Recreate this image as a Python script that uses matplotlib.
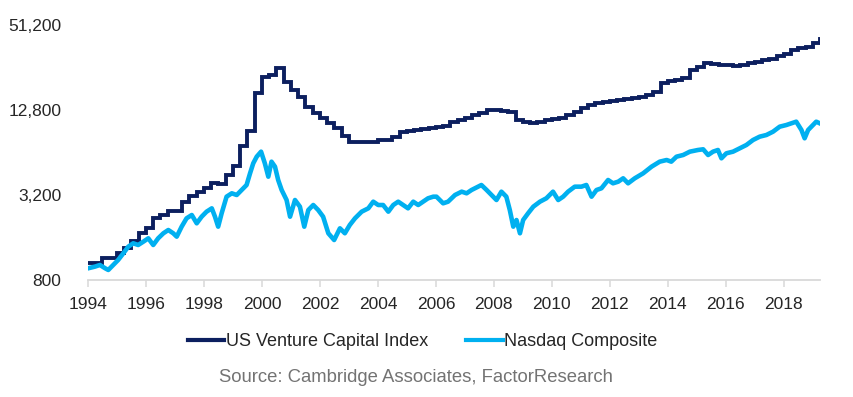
import numpy as np
import matplotlib
matplotlib.use("Agg")
import matplotlib.pyplot as plt
from matplotlib.ticker import FixedLocator, NullLocator, FuncFormatter

plt.rcParams['font.family'] = ['Liberation Sans', 'DejaVu Sans']

# ---- data ----
vc_quarters = np.arange(1994.0, 2019.26, 0.25)
vc_values = [
    1056, 1056, 1145, 1145,
    1243, 1348, 1511, 1722,
    1868, 2199, 2309, 2465,
    2465, 2855, 3148, 3360,
    3587, 3892, 3829, 4434,
    5135, 7115, 9088, 16890,
    21920, 22650, 25390, 20210,
    17730, 15820, 13440, 12190,
    11230, 10350, 9544, 8375,
    7594, 7594, 7594, 7594,
    7848, 7848, 8240, 8942,
    9088, 9240, 9392, 9544,
    9703, 9860, 10528, 10872,
    11230, 11800, 12190, 12800,
    12800, 12590, 12390, 10872,
    10528, 10350, 10528, 10872,
    11050, 11230, 11800, 12390,
    13220, 13890, 14350, 14580,
    14820, 15070, 15310, 15570,
    15820, 16350, 17170, 19880,
    20540, 20880, 21570, 24570,
    25810, 27550, 27100, 26660,
    26660, 26230, 26660, 27550,
    28000, 28930, 29410, 30900,
    31900, 34050, 35170, 35760,
    38170, 40740,
]

nasdaq_dates = [
    1994.01, 1994.24, 1994.41, 1994.59, 1994.70, 1994.87,
    1995.04, 1995.22, 1995.39, 1995.56, 1995.73, 1995.91,
    1996.08, 1996.25, 1996.42, 1996.60, 1996.77, 1996.94,
    1997.06, 1997.23, 1997.40, 1997.58, 1997.75, 1997.92,
    1998.09, 1998.27, 1998.38, 1998.49, 1998.61, 1998.78, 1998.96,
    1999.13, 1999.30, 1999.47, 1999.59, 1999.70, 1999.82, 1999.97,
    2000.10, 2000.22, 2000.33, 2000.45, 2000.56, 2000.68, 2000.85, 2000.97,
    2001.14, 2001.31, 2001.46, 2001.60, 2001.77, 2001.94,
    2002.11, 2002.29, 2002.49, 2002.69, 2002.86,
    2003.03, 2003.21, 2003.44, 2003.67, 2003.84,
    2004.01, 2004.18, 2004.36, 2004.53, 2004.70, 2004.87,
    2005.04, 2005.22, 2005.39, 2005.56, 2005.73, 2005.91,
    2006.02, 2006.25, 2006.42, 2006.66, 2006.89,
    2007.06, 2007.23, 2007.46, 2007.57, 2007.75, 2007.92,
    2008.09, 2008.26, 2008.43, 2008.55, 2008.67, 2008.78, 2008.90,
    2009.01, 2009.18, 2009.36, 2009.59, 2009.81,
    2010.04, 2010.22, 2010.39, 2010.56, 2010.79,
    2011.02, 2011.19, 2011.37, 2011.54, 2011.71, 2011.94,
    2012.11, 2012.29, 2012.46, 2012.63, 2012.86,
    2013.15, 2013.44, 2013.72, 2013.96,
    2014.12, 2014.30, 2014.53, 2014.76,
    2015.04, 2015.22, 2015.39, 2015.56, 2015.73, 2015.85,
    2016.02, 2016.25, 2016.48, 2016.71, 2016.94,
    2017.17, 2017.40, 2017.63, 2017.86,
    2018.09, 2018.26, 2018.43, 2018.61, 2018.72, 2018.84,
    2019.01, 2019.12, 2019.24,
]
nasdaq_values = [
    969, 995, 1022, 969, 942, 1022,
    1109, 1237, 1378, 1456, 1416, 1495,
    1579, 1416, 1579, 1714, 1808, 1714,
    1622, 1909, 2188, 2309, 2017, 2247,
    2438, 2575, 2247, 1909, 2374, 3114, 3290,
    3200, 3472, 3767, 4558, 5366, 5979, 6488,
    5366, 4315, 5511, 5080, 4087, 3472, 2949, 2247,
    2949, 2645, 1909, 2505, 2718, 2505,
    2247, 1714, 1536, 1859, 1714,
    1962, 2188, 2438, 2575, 2870,
    2718, 2718, 2438, 2718, 2870, 2718,
    2575, 2870, 2718, 2870, 3032, 3114,
    3114, 2794, 2870, 3200, 3379,
    3290, 3472, 3666, 3767, 3472, 3200,
    2949, 3379, 3114, 2505, 1909, 2128, 1714,
    2128, 2374, 2645, 2870, 3032,
    3379, 2949, 3114, 3379, 3666,
    3666, 3767, 3114, 3472, 3569, 4087,
    3872, 3977, 4201, 3872, 4201,
    4558, 5080, 5511, 5663,
    5511, 5979, 6145, 6488,
    6667, 6743, 6145, 6488, 6667, 5822,
    6317, 6488, 6854, 7233, 7848,
    8286, 8514, 8989, 9752,
    10022, 10303, 10581, 9237, 8068, 9237,
    10022, 10581, 10303,
]

series_names = ["US Venture Capital Index", "Nasdaq Composite"]
y_ticks = [800, 3200, 12800, 51200]
x_ticks = list(range(1994, 2019, 2))
source_text = "Source: Cambridge Associates, FactorResearch"

# ---- figure ----
fig = plt.figure(figsize=(8.54, 3.97), dpi=100)
ax = fig.add_axes([88/854, 1-280/397, (820-88)/854, (280-25)/397])

vc_color = "#0c1f5f"
nq_color = "#00b0f0"

ax.plot(vc_quarters, vc_values, drawstyle="steps-post", color=vc_color,
        lw=2.8, label=series_names[0], solid_joinstyle="miter", zorder=2)
ax.plot(nasdaq_dates, nasdaq_values, color=nq_color, lw=3.3,
        label=series_names[1], zorder=3)

ax.set_yscale("log")
ax.set_ylim(800, 51200)
ax.set_xlim(1994, 2019.25)
ax.yaxis.set_major_locator(FixedLocator(y_ticks))
ax.yaxis.set_minor_locator(NullLocator())
ax.yaxis.set_major_formatter(FuncFormatter(lambda v, p: f"{int(round(v)):,}"))
ax.xaxis.set_major_locator(FixedLocator(x_ticks))
ax.xaxis.set_minor_locator(NullLocator())

for s in ["top", "right", "left"]:
    ax.spines[s].set_visible(False)
ax.spines["bottom"].set_color("#d9d9d9")
ax.spines["bottom"].set_linewidth(1.3)

ax.tick_params(axis="y", length=0, pad=19, labelsize=12.5, labelcolor="#262626")
ax.tick_params(axis="x", length=5, width=1.1, color="#d9d9d9", pad=7,
               labelsize=12.5, labelcolor="#262626")

leg = fig.legend(loc="center", bbox_to_anchor=(423/854, 1-342/397), ncol=2,
                 frameon=False, fontsize=13, handlelength=2.0, handletextpad=0.1,
                 columnspacing=2.1)
for t in leg.get_texts():
    t.set_color("#262626")
for h in leg.get_lines():
    h.set_linewidth(3.0)

fig.text(416/854, 1-377/397, source_text, ha="center", va="center",
         fontsize=13.3, color="#737373")

fig.savefig("out.png", dpi=100)
